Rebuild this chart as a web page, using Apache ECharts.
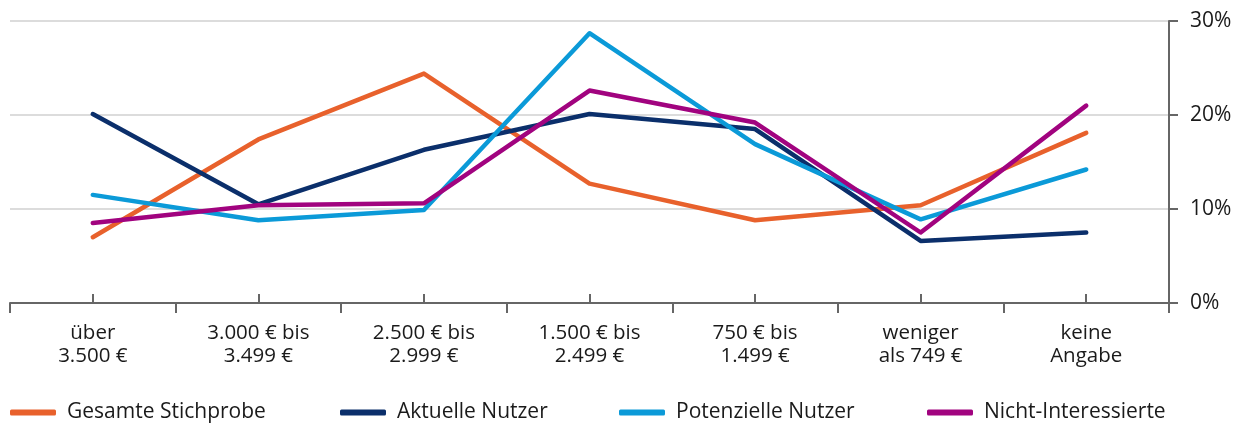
<!DOCTYPE html>
<html>
<head>
<meta charset="utf-8">
<script src="https://cdn.jsdelivr.net/npm/echarts@6/dist/echarts.min.js"></script>
<style>
  html, body { margin: 0; padding: 0; background: #fff; }
  #chart { width: 1246px; height: 423px; }
</style>
</head>
<body>
<div id="chart"></div>
<script>
const categories = [
  "über\n3.500 €",
  "3.000 € bis\n3.499 €",
  "2.500 € bis\n2.999 €",
  "1.500 € bis\n2.499 €",
  "750 € bis\n1.499 €",
  "weniger\nals 749 €",
  "keine\nAngabe"
];
const seriesNames = ["Gesamte Stichprobe", "Aktuelle Nutzer", "Potenzielle Nutzer", "Nicht-Interessierte"];
const gesamte = [7.0, 17.4, 24.4, 12.7, 8.8, 10.4, 18.1];
const aktuelle = [20.1, 10.5, 16.3, 20.1, 18.5, 6.6, 7.5];
const potenzielle = [11.5, 8.8, 9.9, 28.7, 16.9, 8.9, 14.2];
const nicht = [8.5, 10.4, 10.6, 22.6, 19.2, 7.5, 21.0];
const yTicks = [0, 10, 20, 30];

const colors = ["#e8612c", "#0b2f6b", "#0b9ad8", "#a1037f"];
const font = "Open Sans";
const legendLeft = [10, 340, 619, 927];

const myChart = echarts.init(document.getElementById("chart"));

function makeSeries(name, data, color) {
  return {
    name: name,
    type: "line",
    data: data,
    symbol: "none",
    color: color,
    lineStyle: { color: color, width: 4.5, cap: "round", join: "round" },
    emphasis: { disabled: true }
  };
}

const option = {
  animation: false,
  textStyle: { fontFamily: font },
  grid: { left: 10, right: 77, top: 21, bottom: 120 },
  legend: seriesNames.map((n, i) => ({
    data: [n],
    left: legendLeft[i],
    top: 402,
    padding: 0,
    icon: "roundRect",
    itemWidth: 46,
    itemHeight: 6,
    textStyle: { fontFamily: font, fontSize: 21, color: "#1a1a1a", padding: [0, 0, 0, 6] }
  })),
  xAxis: [
    {
      type: "category",
      data: categories,
      position: "bottom",
      boundaryGap: true,
      axisLine: { lineStyle: { color: "#666", width: 2 } },
      axisTick: { show: true, length: 10, interval: 0, lineStyle: { color: "#666", width: 2 } },
      axisLabel: { interval: 0, margin: 19, fontSize: 20.5, lineHeight: 23, color: "#1a1a1a", fontFamily: font }
    },
    {
      type: "category",
      data: categories,
      position: "bottom",
      boundaryGap: true,
      axisLine: { show: false },
      axisTick: { show: true, inside: true, alignWithLabel: true, length: 9, interval: 0, lineStyle: { color: "#666", width: 2 } },
      axisLabel: { show: false }
    }
  ],
  yAxis: {
    type: "value",
    position: "right",
    min: yTicks[0],
    max: yTicks[yTicks.length - 1],
    interval: 10,
    axisLine: { show: true, lineStyle: { color: "#666", width: 2 } },
    axisTick: { show: true, length: 9, lineStyle: { color: "#666", width: 2 } },
    axisLabel: { margin: 21, fontSize: 21, color: "#1a1a1a", fontFamily: font, formatter: v => v + "%" },
    splitLine: { show: true, lineStyle: { color: "#dcdcdc", width: 2 } }
  },
  series: [
    makeSeries(seriesNames[0], gesamte, colors[0]),
    makeSeries(seriesNames[1], aktuelle, colors[1]),
    makeSeries(seriesNames[2], potenzielle, colors[2]),
    makeSeries(seriesNames[3], nicht, colors[3])
  ]
};

myChart.setOption(option);
window.addEventListener("resize", () => {
  myChart.resize();
});
</script>
</body>
</html>
